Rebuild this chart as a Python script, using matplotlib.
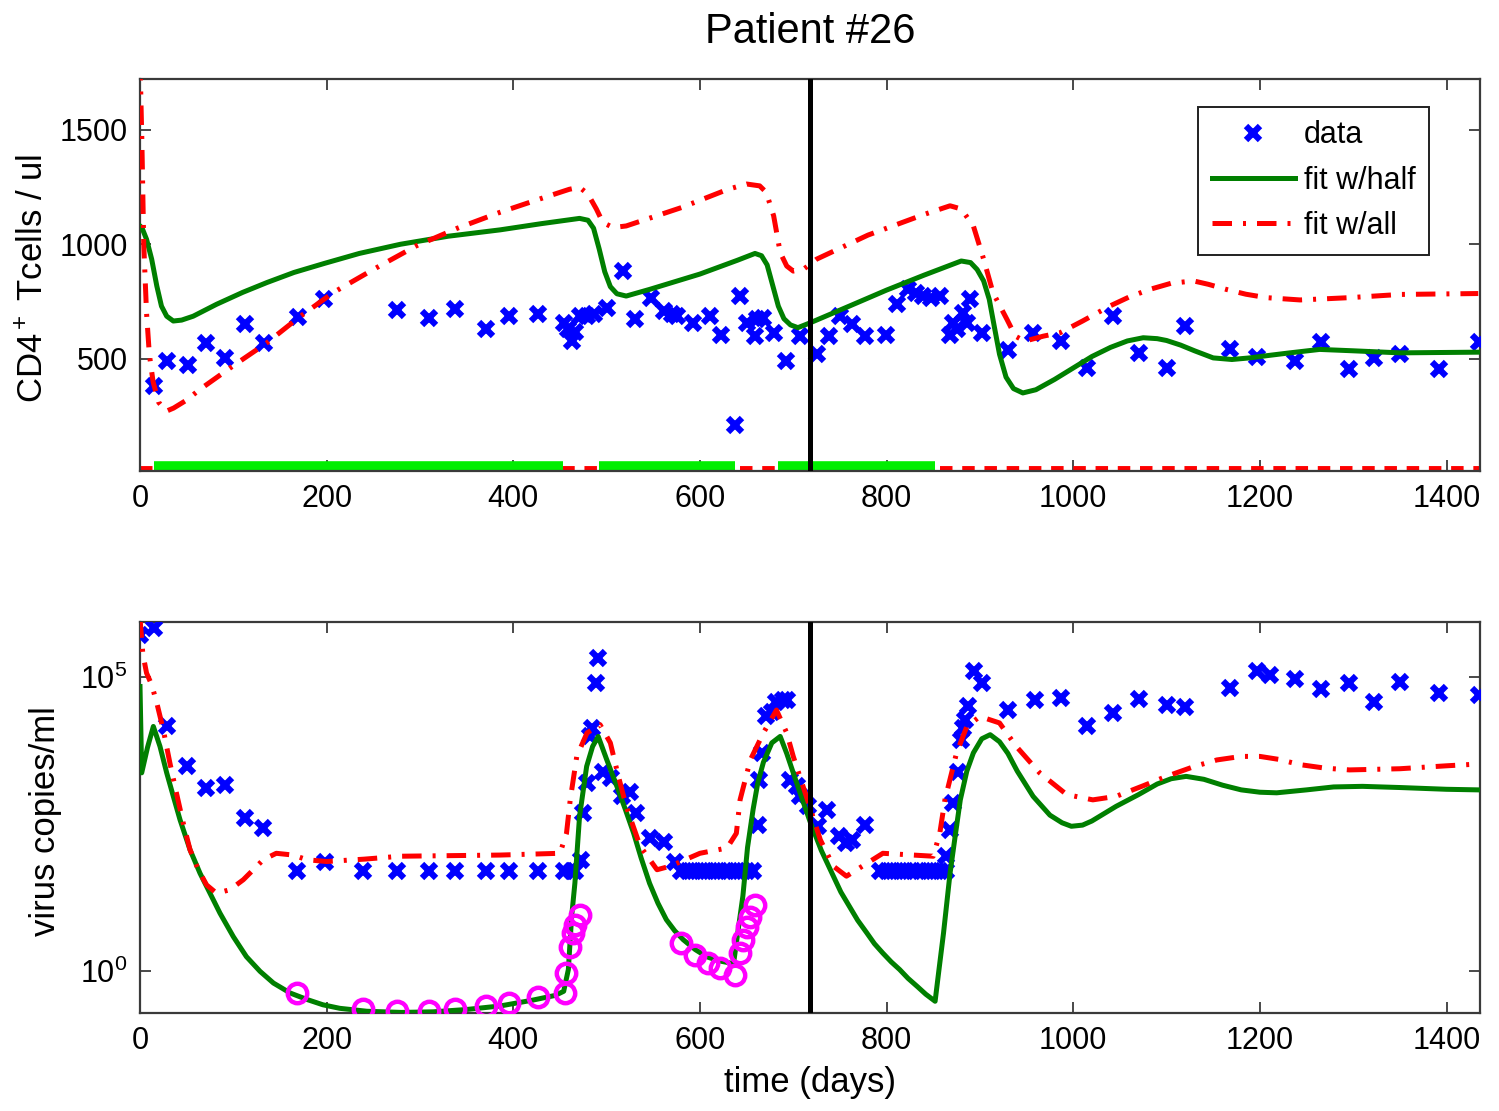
import numpy as np
import matplotlib
matplotlib.use('Agg')
import matplotlib.pyplot as plt
import matplotlib.font_manager as fm

# ---- data ---------------------------------------------------------------
# CD4+ T cell measurements (cells/ul)
cd4_days = [15, 29, 51, 71, 91, 112, 133, 169, 197, 275, 310, 338, 371, 395, 427,
            454, 459, 463, 466, 471, 479, 486, 500, 518, 530, 548, 561, 570, 575,
            593, 611, 623, 638, 643, 650, 659, 661, 668, 679, 692, 707, 725, 738,
            750, 763, 777, 799, 811, 823, 832, 839, 848, 857, 868, 871, 875, 882,
            886, 889, 902, 930, 957, 987, 1015, 1043, 1071, 1100, 1120, 1168, 1197,
            1238, 1266, 1295, 1322, 1350, 1392, 1435]
cd4_vals = [380, 489, 471, 570, 504, 650, 570, 682, 760, 713, 679, 719, 628, 687, 694,
            657, 628, 577, 615, 687, 687, 694, 723, 883, 672, 767, 708, 694, 687,
            657, 687, 606, 212, 774, 657, 599, 672, 679, 614, 489, 599, 519, 599,
            687, 650, 599, 606, 738, 803, 789, 774, 767, 774, 606, 657, 628, 701,
            657, 760, 614, 538, 614, 577, 460, 687, 526, 460, 643, 541, 507,
            489, 573, 456, 504, 519, 456, 573]

# CD4 model fits
half_cd4_days = [0, 2, 7, 12.5, 18, 23, 28.6, 35.7, 44.6, 57, 82, 110, 136, 165, 198, 235,
                 279, 330, 386, 430, 471, 480, 486, 492, 498, 504, 511, 521, 546, 600,
                 640, 659, 666, 672, 678, 684, 690, 697, 705, 718, 760, 800, 840, 880,
                 890, 897, 904, 910, 915, 921, 928, 936, 946, 960, 980, 1000, 1020, 1040,
                 1058, 1075, 1090, 1100, 1115, 1130, 1150, 1170, 1189, 1210, 1230, 1264,
                 1300, 1350, 1434]
half_cd4_vals = [1080, 1073, 1022, 935, 818, 730, 686, 665, 669, 686, 738, 790, 833, 877, 917, 960,
                 1000, 1035, 1063, 1090, 1113, 1105, 1070, 980, 880, 815, 784, 774, 803, 870,
                 930, 960, 950, 910, 820, 730, 675, 648, 636, 657, 730, 800, 865, 927,
                 920, 890, 840, 760, 650, 520, 420, 370, 351, 365, 410, 460, 510, 550,
                 578, 592, 588, 580, 560, 535, 504, 497, 504, 515, 525, 541,
                 535, 526, 529]

all_cd4_days = [0, 2, 4, 7, 10, 14, 20, 28, 36, 50, 64, 100, 136, 170, 207, 250, 296, 340,
                386, 430, 460, 471, 480, 489, 496, 507, 521, 580, 630, 650, 664, 671, 679,
                686, 693, 700, 711, 725, 780, 840, 868, 880, 893, 904, 914, 929, 938,
                948, 968, 986, 1010, 1039, 1060, 1082, 1105, 1129, 1145, 1164, 1185, 1207,
                1243, 1270, 1296, 1350, 1434]
all_cd4_vals = [1800, 1450, 1000, 700, 520, 400, 310, 271, 285, 320, 366, 470, 570, 680, 789, 890, 993, 1070,
                1140, 1200, 1240, 1249, 1219, 1154, 1095, 1073, 1080, 1160, 1240, 1263, 1255, 1227, 1124,
                964, 905, 883, 891, 935, 1040, 1130, 1168, 1154, 1080, 935, 789, 672, 599,
                577, 599, 614, 665, 730, 770, 803, 830, 840, 825, 803, 782, 767,
                757, 762, 767, 781, 785]

# treatment periods (days)
treat_start = [15, 492, 684]
treat_end = [453, 638, 852]
x_max = 1436
cutoff_day = 718

# viral load measurements (log10 copies/ml)
vl_days = [0, 15, 29, 50, 71, 91, 112, 132, 168, 198, 239, 275, 310, 338, 371, 395, 427,
           454, 463, 466, 473, 475, 479, 482, 484, 489, 491, 496, 505, 516, 525, 532,
           546, 561, 573, 580, 587, 594, 601, 608, 615, 622, 629, 636, 643, 650, 657,
           662, 663, 666, 671, 677, 682, 689, 693, 696, 704, 707, 716, 727, 736, 749,
           757, 763, 777, 793, 800, 807, 814, 821, 828, 836, 843, 850, 857, 864, 864,
           868, 871, 877, 880, 882, 884, 887, 894, 902, 930, 959, 987, 1015, 1043,
           1071, 1100, 1120, 1168, 1197, 1211, 1238, 1266, 1295, 1322, 1350, 1392, 1435]
vl_log = [5.72, 5.83, 4.16, 3.48, 3.11, 3.17, 2.60, 2.43, 1.69, 1.86, 1.69, 1.69, 1.69, 1.69, 1.69, 1.69, 1.69,
          1.69, 1.69, 1.69, 1.89, 2.68, 3.20, 3.99, 4.13, 4.90, 5.32, 3.39, 3.28, 2.97, 3.05, 2.68,
          2.26, 2.20, 1.86, 1.69, 1.69, 1.69, 1.69, 1.69, 1.69, 1.69, 1.69, 1.69, 1.69, 1.69, 1.69,
          2.49, 3.25, 3.71, 4.33, 4.41, 4.58, 4.61, 4.61, 3.25, 3.14, 2.97, 2.80, 2.46, 2.74, 2.29,
          2.17, 2.23, 2.49, 1.69, 1.69, 1.69, 1.69, 1.69, 1.69, 1.69, 1.69, 1.69, 1.69, 1.69, 1.95,
          2.40, 2.85, 3.39, 3.93, 4.13, 4.27, 4.50, 5.10, 4.90, 4.44, 4.61, 4.64, 4.16, 4.39,
          4.63, 4.53, 4.49, 4.81, 5.10, 5.04, 4.97, 4.80, 4.90, 4.58, 4.91, 4.73, 4.70]

# model predictions at censored (below detection) samples, log10
cens_days = [168, 239, 275, 310, 338, 371, 395, 427, 455, 457, 461, 464, 466, 471,
             580, 595, 609, 621, 638, 643, 646, 650, 654, 659]
cens_log = [-0.38, -0.66, -0.69, -0.69, -0.66, -0.60, -0.55, -0.44, -0.38, -0.04, 0.41, 0.64, 0.78, 0.95,
            0.47, 0.27, 0.13, 0.05, -0.07, 0.30, 0.53, 0.75, 0.92, 1.12]

# viral load model fits, log10
half_vl_days = [0, 1.8, 8, 14.3, 21.4, 28.6, 35.7, 42.9, 53.6, 64.3, 75, 85.7, 100, 114,
                128.6, 143, 161, 179, 196, 214, 243, 280, 314, 350, 386, 421, 445, 454,
                459, 462.5, 466, 471, 478.6, 485, 491, 500, 511, 520, 529, 537, 546, 555,
                564, 573, 582, 595, 607, 620, 636, 641, 646, 651, 657, 662, 668, 677, 686,
                693, 700, 709, 718, 730, 743, 751, 760, 769, 779, 787, 796, 805, 814, 823,
                833, 842, 852, 856, 861, 868, 874, 879, 886, 893, 902, 911, 921, 930, 940,
                957, 975, 988, 998, 1010, 1020, 1046, 1070, 1090, 1105, 1121, 1140, 1160,
                1180, 1200, 1218, 1250, 1279, 1310, 1350, 1400, 1434]
half_vl_log = [4.84, 3.37, 3.8, 4.16, 3.82, 3.37, 2.97, 2.57, 2.06, 1.66, 1.32, 0.98, 0.58, 0.24,
               -0.01, -0.21, -0.38, -0.49, -0.58, -0.64, -0.69, -0.71, -0.70, -0.66, -0.60, -0.50, -0.42, -0.35,
               0.02, 0.92, 1.49, 2.63, 3.48, 3.82, 3.99, 3.6, 3.14, 2.75, 2.34, 1.92, 1.49, 1.15,
               0.87, 0.68, 0.53, 0.36, 0.24, 0.17, 0.12, 0.7, 1.27, 2.1, 2.75, 3.2, 3.55, 3.88, 3.99,
               3.7, 3.37, 2.95, 2.54, 2.05, 1.61, 1.34, 1.1, 0.86, 0.64, 0.46, 0.3, 0.15, 0.02, -0.13,
               -0.27, -0.40, -0.52, 0.0, 0.64, 1.66, 2.35, 2.91, 3.4, 3.71, 3.95, 4.02, 3.9, 3.7, 3.4,
               2.97, 2.65, 2.52, 2.46, 2.48, 2.55, 2.80, 3.0, 3.18, 3.27, 3.31, 3.26, 3.16,
               3.08, 3.04, 3.03, 3.08, 3.13, 3.14, 3.12, 3.09, 3.08]

all_vl_days = [0, 3, 7, 12.5, 18, 25, 32, 39, 46.4, 53.6, 62.5, 71.4, 82, 96.4, 110.7, 121.4,
               132, 146, 164, 179, 200, 240, 279, 386, 450, 457, 461, 468, 479, 493, 504, 512,
               521, 536, 554, 568, 600, 629, 639, 643, 654, 668, 682, 693, 700, 714, 729,
               743, 757, 779, 796, 850, 857, 862.5, 875, 886, 900, 921, 939, 964, 993, 1021,
               1046, 1075, 1100, 1130, 1154, 1180, 1200, 1220, 1243, 1270, 1296, 1350, 1400, 1434]
all_vl_log = [6.0, 5.4, 5.07, 4.87, 4.56, 4.10, 3.54, 3.03, 2.51, 2.06, 1.72, 1.46, 1.32, 1.38, 1.55, 1.72,
              1.89, 2.0, 1.97, 1.89, 1.86, 1.9, 1.95, 1.97, 2.0, 2.34, 2.91, 3.65, 4.05, 4.19, 3.88, 3.35,
              2.80, 2.12, 1.72, 1.78, 2.0, 2.09, 2.34, 2.91, 3.59, 4.05, 4.44, 4.05, 3.65, 2.97, 2.23,
              1.78, 1.61, 1.83, 2.0, 1.95, 2.34, 2.91, 3.71, 4.16, 4.33, 4.22, 3.82, 3.37, 3.0, 2.91,
              2.97, 3.15, 3.31, 3.48, 3.59, 3.65, 3.65, 3.6, 3.51, 3.45, 3.42, 3.44, 3.49, 3.52]

# ---- style ----------------------------------------------------------------
names = {f.name for f in fm.fontManager.ttflist}
fam = 'Liberation Sans Narrow' if 'Liberation Sans Narrow' in names else 'Liberation Sans'
plt.rcParams['font.family'] = [fam, 'DejaVu Sans']
plt.rcParams['mathtext.fontset'] = 'custom'
plt.rcParams['mathtext.rm'] = fam
plt.rcParams['mathtext.it'] = fam
plt.rcParams['mathtext.default'] = 'regular'

GREEN = '#007f00'
RED = '#ff0000'
BLUE = '#0000ff'
LIME = '#00ee00'
SPINE = '#3a3a3a'
dashdot = (0, (3.9, 2.2, 0.6, 2.2))
line_kw = dict(lw=3.6, solid_joinstyle='round', dash_joinstyle='round')


def style_axes(ax):
  for s in ax.spines.values():
    s.set_color(SPINE)
    s.set_linewidth(1.6)
  ax.tick_params(direction='in', length=8, width=1.3, color=SPINE,
                 top=True, right=True, labelsize=22, pad=9)
  ax.set_xlim(0, x_max)
  ax.set_xticks([0, 200, 400, 600, 800, 1000, 1200, 1400])


fig = plt.figure(figsize=(14.99, 11.11), dpi=100)
ax1 = fig.add_axes([0.0934, 0.576, 0.894, 0.353])
ax2 = fig.add_axes([0.0934, 0.0882, 0.894, 0.352])

# ---- top: CD4 ---------------------------------------------------------------
ax1.plot(cd4_days, cd4_vals, 'x', color=BLUE, ms=10, mew=4.5, label='data', zorder=3)
ax1.plot(half_cd4_days, half_cd4_vals, '-', color=GREEN, label='fit w/half', zorder=4, **line_kw)
ax1.plot(all_cd4_days, all_cd4_vals, color=RED, linestyle=dashdot,
         label='fit w/all', zorder=5, **line_kw)
# treatment indicators along the bottom
ax1.plot([0, x_max], [0, 0], color=RED, lw=10, linestyle=(0, (0.9, 0.7)), zorder=2)
for s, e in zip(treat_start, treat_end):
  ax1.plot([s, e], [0, 0], color=LIME, lw=17, solid_capstyle='butt', zorder=2.5)
ax1.axvline(cutoff_day, color='black', lw=3.6, zorder=6)
style_axes(ax1)
ax1.set_ylim(10, 1722)
ax1.set_yticks([500, 1000, 1500])
ax1.set_ylabel(r'CD4$^+$ Tcells / ul', fontsize=25)
ax1.yaxis.set_label_coords(-0.067, 0.49)

leg = ax1.legend(loc='upper right', bbox_to_anchor=(0.962, 0.929), borderaxespad=0,
                 fontsize=22, fancybox=False, framealpha=1, edgecolor='#202020',
                 handlelength=2.7, handletextpad=0.3, labelspacing=0.5,
                 borderpad=0.45)
leg.get_frame().set_linewidth(1.4)

# ---- bottom: viral load -----------------------------------------------------
ax2.plot(vl_days, 10 ** np.array(vl_log), 'x', color=BLUE, ms=10, mew=4.5, zorder=3)
ax2.plot(half_vl_days, 10 ** np.array(half_vl_log), '-', color=GREEN, zorder=4, **line_kw)
ax2.plot(all_vl_days, 10 ** np.array(all_vl_log), color=RED, linestyle=dashdot, zorder=5, **line_kw)
ax2.plot(cens_days, 10 ** np.array(cens_log), 'o', mfc='none', mec='#ff00ff', ms=14, mew=3.2, zorder=6)
ax2.axvline(cutoff_day, color='black', lw=3.6, zorder=7)
ax2.set_yscale('log')
style_axes(ax2)
ax2.set_ylim(10 ** -0.72, 10 ** 5.94)
ax2.set_yticks([1, 1e5])
ax2.set_yticklabels([r'$10^{0}$', r'$10^{5}$'])
ax2.yaxis.set_minor_locator(matplotlib.ticker.NullLocator())
ax2.set_ylabel('virus copies/ml', fontsize=25)
ax2.yaxis.set_label_coords(-0.058, 0.49)
ax2.set_xlabel('time (days)', fontsize=25)
ax2.xaxis.set_label_coords(0.5, -0.135)

fig.text(0.5404, 1 - 32 / 1111, 'Patient #26', fontsize=30, ha='center', va='center')

fig.savefig('out.png', dpi=100)
